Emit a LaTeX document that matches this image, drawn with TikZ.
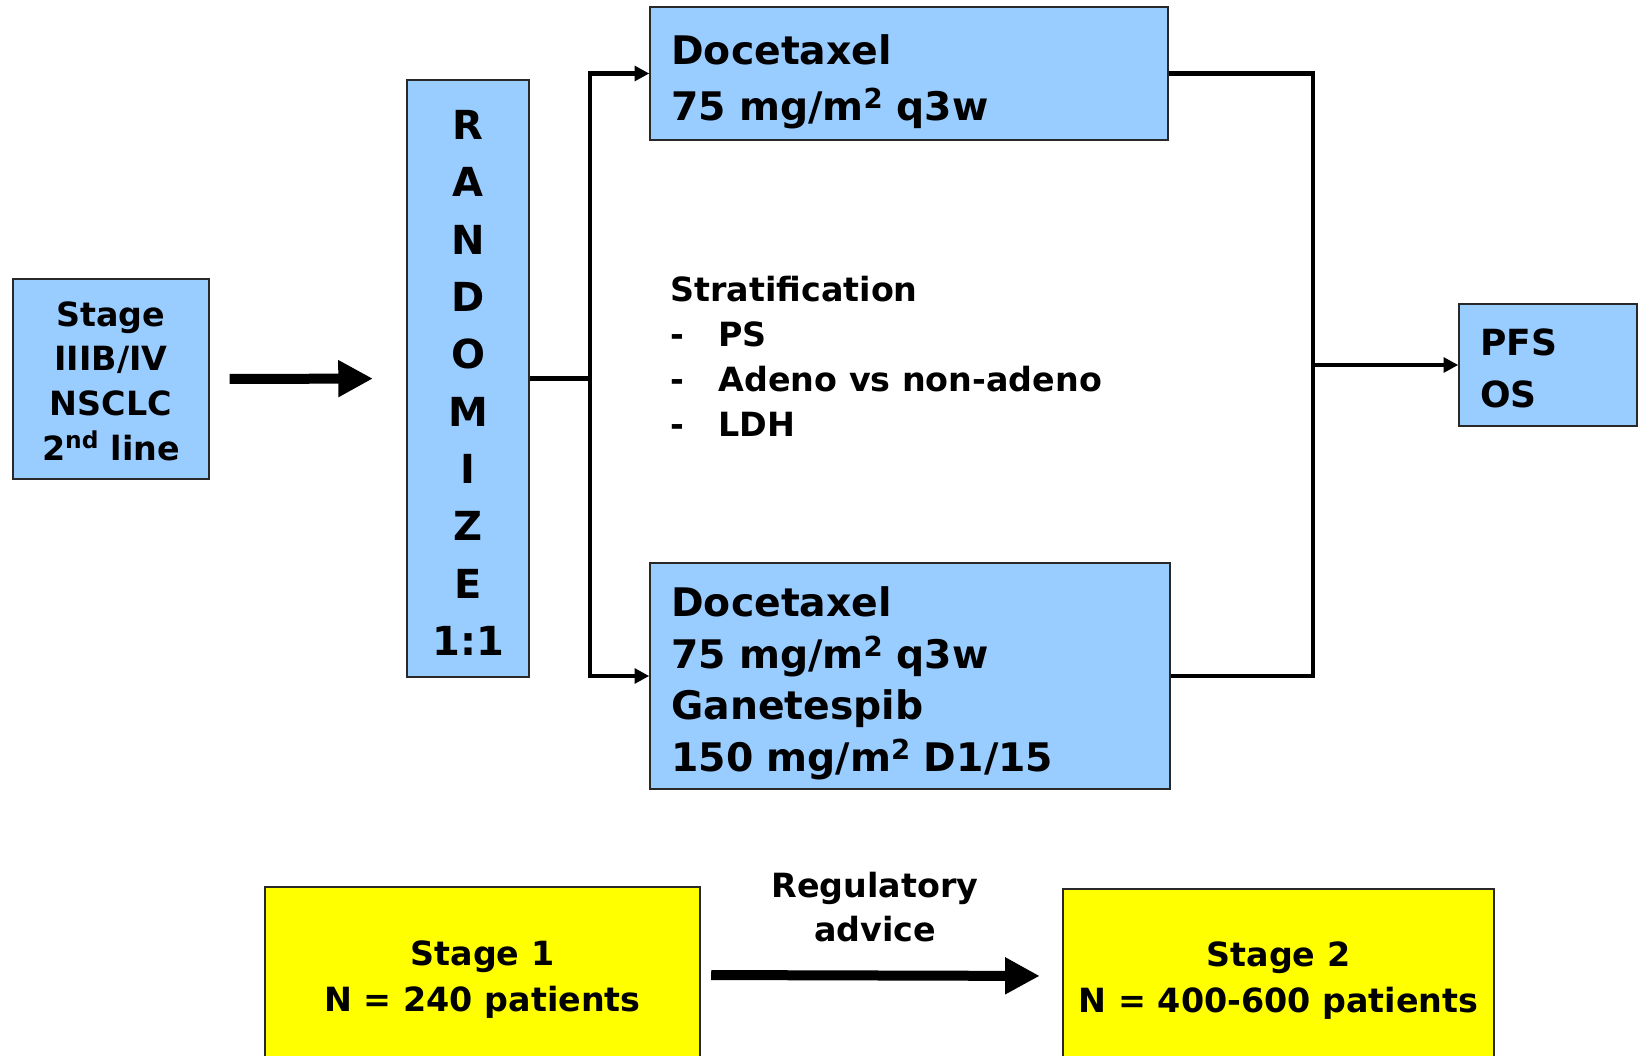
\documentclass[tikz,border=0pt]{standalone}
\usepackage{fontspec}
\setmainfont{DejaVu Sans}
\usepackage{xcolor}
\usepackage{tikz}
\usetikzlibrary{arrows.meta}
\tikzset{every picture/.style={line width=0.75pt}}
\definecolor{boxblue}{RGB}{153,204,255}
\definecolor{boxyellow}{RGB}{255,255,0}
\definecolor{boxline}{RGB}{40,40,40}
\newcommand{\topgap}[1]{\rule{0pt}{#1}}
\tikzset{
  bluebox/.style={draw=boxline, fill=boxblue, line width=1.1pt, inner xsep=16pt, inner ysep=0pt},
  yellowbox/.style={draw=boxline, fill=boxyellow, line width=1.1pt, inner sep=0pt, align=center,
    font=\bfseries\fontsize{25pt}{34.5pt}\selectfont},
  conn/.style={line width=3.2pt},
  thinarr/.style={line width=3.2pt, -{Triangle[length=11pt,width=11pt]}},
  thickarr/.style={line width=7.5pt, -{Triangle[length=26pt,width=26pt]}}
}

\begin{document}
\begin{tikzpicture}[x=0.75pt,y=0.75pt,yscale=-1,xscale=1]
\useasboundingbox (0,0) rectangle (1639,1056);

%Shape: Rectangle [id:stage]
\node [bluebox, inner xsep=0pt, minimum width=147pt, minimum height=150pt, align=center,
  font=\bfseries\fontsize{25pt}{33.7pt}\selectfont] (stage) at (111,379)
  {\topgap{22pt}Stage\\IIIB/IV\\NSCLC\\2\textsuperscript{nd} line};
%Shape: Rectangle [id:rand]
\node [bluebox, inner xsep=0pt, minimum width=91.5pt, minimum height=448pt, align=center,
  font=\bfseries\fontsize{30pt}{43pt}\selectfont] (rand) at (468,378.5)
  {\topgap{28.5pt}R\\A\\N\\D\\O\\M\\I\\Z\\E\\1:1};
%Shape: Rectangle [id:doce]
\node [bluebox, text width=356.5pt, minimum height=100pt, align=left,
  font=\bfseries\fontsize{29.5pt}{42pt}\selectfont] (doce) at (909,73.5)
  {\topgap{35pt}Docetaxel\\75 mg/m\textsuperscript{2} q3w};
%Shape: Rectangle [id:combo]
\node [bluebox, text width=358pt, minimum height=169.5pt, align=left,
  font=\bfseries\fontsize{29.5pt}{38.6pt}\selectfont] (combo) at (910,676)
  {\topgap{33.5pt}Docetaxel\\75 mg/m\textsuperscript{2} q3w\\Ganetespib\\150 mg/m\textsuperscript{2} D1/15};
%Shape: Rectangle [id:endp]
\node [bluebox, text width=101.5pt, minimum height=91.5pt, align=left,
  font=\bfseries\fontsize{27pt}{39pt}\selectfont] (endp) at (1548,365)
  {\topgap{24.5pt}PFS\\OS};
%Shape: Rectangle [id:stage1]
\node [yellowbox, minimum width=326pt, minimum height=132pt] (stage1) at (482.5,975)
  {\topgap{25pt}Stage 1\\N = 240 patients};
%Shape: Rectangle [id:stage2]
\node [yellowbox, minimum width=323pt, minimum height=130.5pt] (stage2) at (1278.5,976)
  {\topgap{25pt}Stage 2\\N = 400-600 patients};

% Text Node
\node [anchor=west, inner sep=0pt, align=left,
  font=\bfseries\fontsize{25pt}{33.7pt}\selectfont] (strat) at (670,356)
  {Stratification\\\makebox[36pt][l]{-}PS\\\makebox[36pt][l]{-}Adeno vs non-adeno\\\makebox[36pt][l]{-}LDH};
% Text Node
\node [inner sep=0pt, align=center,
  font=\bfseries\fontsize{25pt}{33pt}\selectfont] (advice) at (875,907)
  {Regulatory\\advice};

\coordinate (split) at (590,378.5);
\coordinate (merge) at (1313,365);

%Straight Lines [id:entry]
\draw [thickarr, shorten <=15pt, shorten >=25pt] (stage.east) -- (rand.west);
%Straight Lines [id:branch]
\draw [conn] (rand.east) -- (split);
\draw [thinarr] (split) |- (doce.west);
\draw [thinarr] (split) |- (combo.west);
%Straight Lines [id:join]
\draw [conn] (doce.east) -| (merge);
\draw [conn] (combo.east) -| (merge);
\draw [thinarr] (merge) -- (endp.west);
%Straight Lines [id:stages]
\draw [thickarr, shorten <=8pt, shorten >=17pt] (stage1.east) -- (stage2.west);
\end{tikzpicture}
\end{document}
